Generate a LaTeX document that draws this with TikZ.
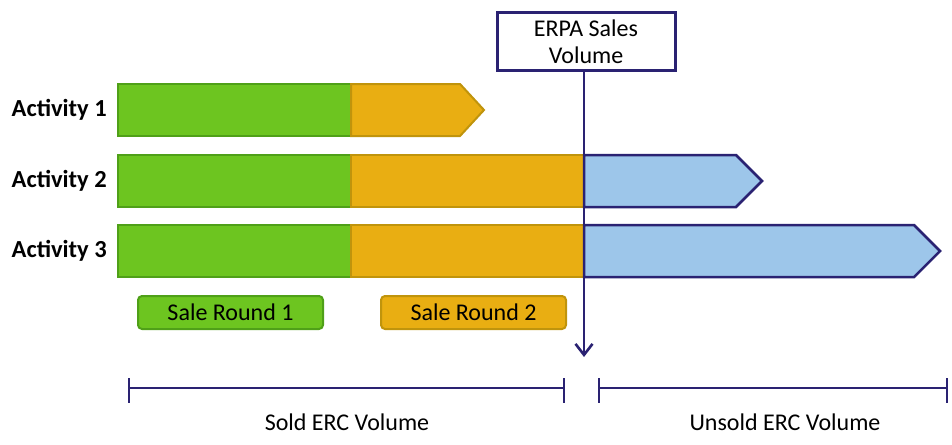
\documentclass[tikz,border=0pt]{standalone}
\usepackage{fontspec}
\setmainfont{Carlito}
\usetikzlibrary{arrows.meta}
\definecolor{grn}{HTML}{6DC520}
\definecolor{grnedge}{HTML}{4FA018}
\definecolor{org}{HTML}{E9AE12}
\definecolor{orgedge}{HTML}{C0940C}
\definecolor{blu}{HTML}{9DC6EA}
\definecolor{navy}{HTML}{2A2272}
\tikzset{
  seg/.style={line width=2pt, line join=miter},
  greenseg/.style={seg, fill=grn, draw=grnedge},
  orangeseg/.style={seg, fill=org, draw=orgedge},
  blueseg/.style={seg, fill=blu, draw=navy, line width=2.5pt},
  actlabel/.style={anchor=east, font=\fontsize{24.5}{26}\selectfont\bfseries, inner sep=0pt},
  legendbox/.style={draw, line width=2pt, rounded corners=4pt, minimum width=185pt,
    minimum height=33pt, font=\fontsize{24}{26}\selectfont, inner sep=0pt},
  txt/.style={font=\fontsize{24}{26}\selectfont, inner sep=0pt},
  navyline/.style={draw=navy, line width=2.6pt},
}
\begin{document}
\begin{tikzpicture}[x=1pt,y=-1pt]
\useasboundingbox (0,0) rectangle (952,444);

% activity labels
\node[actlabel] (a1) at (107,110) {Activity 1};
\node[actlabel] (a2) at (107,181) {Activity 2};
\node[actlabel] (a3) at (107,251) {Activity 3};

% activity 1
\path[greenseg] (118,84) rectangle (351,136);
\path[orangeseg] (351,84) -- (460,84) -- (484,110) -- (460,136) -- (351,136) -- cycle;

% activity 2
\path[greenseg] (118,155) rectangle (351,207);
\path[orangeseg] (351,155) rectangle (584,207);
\path[blueseg] (584,155) -- (736,155) -- (762,181) -- (736,207) -- (584,207) -- cycle;

% activity 3
\path[greenseg] (118,225) rectangle (351,277);
\path[orangeseg] (351,225) rectangle (584,277);
\path[blueseg] (584,225) -- (914,225) -- (940,251) -- (914,277) -- (584,277) -- cycle;

% sales volume marker
\node[draw=navy, line width=3pt, fill=white, minimum width=178pt, minimum height=57pt,
  align=center, txt, font=\fontsize{24}{27}\selectfont] (erpa) at (586,41.5) {ERPA Sales\\Volume};
\coordinate (mark) at (584,357);
\draw[navyline, -{Straight Barb[length=11pt,width=17pt,line width=2.6pt]}] (erpa.south -| mark) -- (mark);

% legend
\node[legendbox, fill=grn, draw=grnedge] (r1) at (230.5,312.5) {Sale Round 1};
\node[legendbox, fill=org, draw=orgedge] (r2) at (473.5,312.5) {Sale Round 2};

% volume brackets
\coordinate (s1) at (129,388);
\coordinate (s2) at (564,388);
\coordinate (u1) at (599,388);
\coordinate (u2) at (947,388);
\draw[navyline] (s1) -- (s2);
\draw[navyline] ([yshift=10pt]s1) -- ([yshift=-15pt]s1);
\draw[navyline] ([yshift=10pt]s2) -- ([yshift=-15pt]s2);
\draw[navyline] (u1) -- (u2);
\draw[navyline] ([yshift=10pt]u1) -- ([yshift=-15pt]u1);
\draw[navyline] ([yshift=10pt]u2) -- ([yshift=-15pt]u2);
\node[txt] (sold) at (347,422) {Sold ERC Volume};
\node[txt] (unsold) at (785,422) {Unsold ERC Volume};
\end{tikzpicture}
\end{document}
